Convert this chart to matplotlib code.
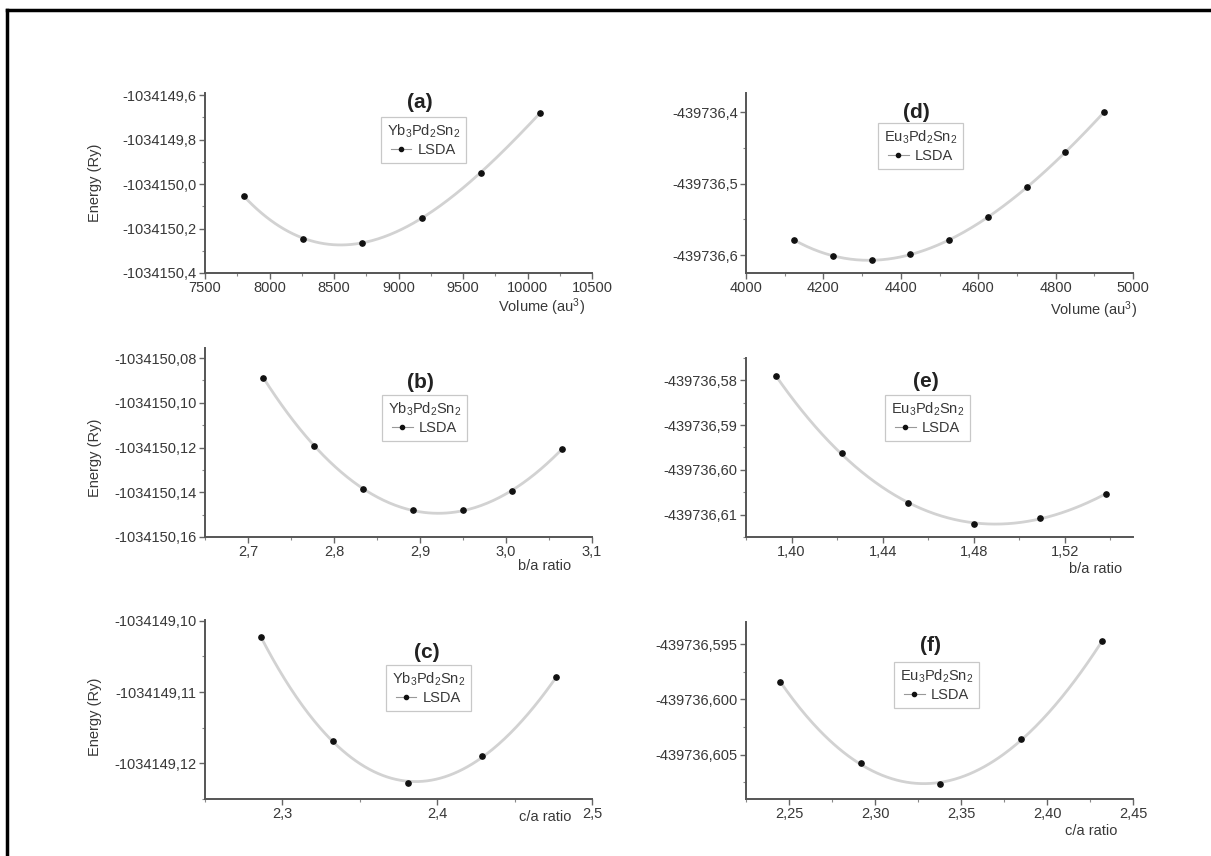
import numpy as np
import matplotlib
matplotlib.use("Agg")
import matplotlib.pyplot as plt
from matplotlib.ticker import MultipleLocator, FuncFormatter
from matplotlib.lines import Line2D

plt.rcParams['font.family'] = ['Liberation Sans', 'DejaVu Sans']
plt.rcParams['mathtext.fontset'] = 'custom'
plt.rcParams['mathtext.rm'] = 'Liberation Sans'
plt.rcParams['mathtext.it'] = 'Liberation Sans:italic'

# ---- data ----
vol_yb = [7800, 8260, 8720, 9180, 9640, 10100]
e_vol_yb = [-1034150.053, -1034150.245, -1034150.263, -1034150.152, -1034149.948, -1034149.678]

ba_yb = [2.718, 2.777, 2.834, 2.892, 2.950, 3.007, 3.065]
e_ba_yb = [-1034150.0889, -1034150.1191, -1034150.1387, -1034150.1481, -1034150.1478,
           -1034150.1396, -1034150.1206]

ca_yb = [2.286, 2.333, 2.381, 2.429, 2.477]
e_ca_yb = [-1034149.10228, -1034149.11683, -1034149.12280, -1034149.11897, -1034149.10793]

vol_eu = [4125, 4225, 4325, 4425, 4525, 4625, 4725, 4825, 4925]
e_vol_eu = [-439736.579, -439736.601, -439736.607, -439736.599, -439736.579,
            -439736.547, -439736.505, -439736.456, -439736.400]

ba_eu = [1.393, 1.422, 1.451, 1.480, 1.509, 1.538]
e_ba_eu = [-439736.57896, -439736.59627, -439736.60731, -439736.61209, -439736.61067, -439736.60545]

ca_eu = [2.245, 2.292, 2.338, 2.385, 2.432]
e_ca_eu = [-439736.59845, -439736.60578, -439736.60767, -439736.60356, -439736.59476]

yb_name = r'Yb$_3$Pd$_2$Sn$_2$'
eu_name = r'Eu$_3$Pd$_2$Sn$_2$'

W, H = 1211, 856
fig = plt.figure(figsize=(W / 100, H / 100), dpi=100)


def rect(x0, y0, x1, y1):
    return [x0 / W, 1 - y1 / H, (x1 - x0) / W, (y1 - y0) / H]


def comma(dec):
    return FuncFormatter(lambda v, _: f"{v:.{dec}f}".replace('.', ','))


txt_col = '#383838'
fs = 10.5
panels = [
    # x, y, name, tag, box, xlim, ylim, xmaj, ymaj, xdec, ydec, xlabel, xlab_pos, tag_pos, leg_pos, ylab_y
    (vol_yb, e_vol_yb, yb_name, '(a)', (205, 93, 592, 273), (7500, 10500), (-1034150.4, -1034149.59),
     500, 0.2, 0, 1, r'Volume (au$^3$)', (0.982, -0.19), (0.556, 0.95), (0.564, 0.867), 0.5),
    (ba_yb, e_ba_yb, yb_name, '(b)', (205, 348, 592, 537), (2.65, 3.1), (-1034150.16, -1034150.0755),
     0.1, 0.02, 1, 2, 'b/a ratio', (0.946, -0.155), (0.556, 0.82), (0.567, 0.751), 0.42),
    (ca_yb, e_ca_yb, yb_name, '(c)', (205, 620, 592, 799), (2.25, 2.5), (-1034149.125, -1034149.0999),
     0.1, 0.01, 1, 2, 'c/a ratio', (0.946, -0.10), (0.574, 0.821), (0.577, 0.749), 0.46),
    (vol_eu, e_vol_eu, eu_name, '(d)', (746, 93, 1133, 273), (4000, 5000), (-439736.625, -439736.373),
     200, 0.1, 0, 1, r'Volume (au$^3$)', (1.01, -0.206), (0.44, 0.894), (0.451, 0.833), None),
    (ba_eu, e_ba_eu, eu_name, '(e)', (746, 358, 1133, 537), (1.38, 1.55), (-439736.615, -439736.575),
     0.04, 0.01, 2, 2, 'b/a ratio', (0.972, -0.179), (0.465, 0.866), (0.469, 0.793), None),
    (ca_eu, e_ca_eu, eu_name, '(f)', (746, 622, 1133, 799), (2.225, 2.45), (-439736.609, -439736.593),
     0.05, 0.005, 2, 3, 'c/a ratio', (0.959, -0.181), (0.478, 0.87), (0.492, 0.774), None),
]

for (x, y, name, tag, box, xlim, ylim, xmaj, ymaj, xdec, ydec, xlabel,
     xlab_pos, tag_pos, leg_pos, ylab_y) in panels:
    ax = fig.add_axes(rect(*box))
    x = np.array(x)
    y = np.array(y)
    # smooth fitted curve through the calculated points
    fit = np.polynomial.Polynomial.fit(x, y - y.mean(), 3)
    xs = np.linspace(x.min(), x.max(), 200)
    ax.plot(xs, fit(xs) + y.mean(), color='#d2d2d2', lw=2, zorder=1)
    ax.plot(x, y, 'o', color='#111111', ms=3.8, zorder=2)

    ax.set_xlim(*xlim)
    ax.set_ylim(*ylim)
    ax.xaxis.set_major_locator(MultipleLocator(xmaj))
    ax.xaxis.set_minor_locator(MultipleLocator(xmaj / 2))
    ax.yaxis.set_major_locator(MultipleLocator(ymaj))
    ax.yaxis.set_minor_locator(MultipleLocator(ymaj / 2))
    ax.xaxis.set_major_formatter(comma(xdec))
    ax.yaxis.set_major_formatter(comma(ydec))

    for s in ('top', 'right'):
        ax.spines[s].set_visible(False)
    for s in ('left', 'bottom'):
        ax.spines[s].set_color('#555555')
        ax.spines[s].set_linewidth(1.4)
    ax.tick_params(which='major', length=4, width=1, color='#666666', direction='out',
                   labelsize=fs, labelcolor=txt_col, pad=2)
    ax.tick_params(which='minor', length=2.5, width=0.8, color='#888888', direction='out')

    ax.set_xlabel(xlabel, fontsize=fs, color=txt_col, ha='right', va='center')
    ax.xaxis.set_label_coords(*xlab_pos)
    if ylab_y is not None:
        ax.set_ylabel('Energy (Ry)', fontsize=fs, color=txt_col, va='center')
        ax.yaxis.set_label_coords(-0.284, ylab_y)

    ax.text(tag_pos[0], tag_pos[1], tag, transform=ax.transAxes, fontsize=15,
            fontweight='bold', color='#222222', ha='center', va='center')

    handle = Line2D([], [], color='#999999', lw=0.8, marker='o', ms=3,
                    mfc='#111111', mec='#111111')
    leg = ax.legend([handle], ['LSDA'], title=name, loc='upper center',
                    bbox_to_anchor=leg_pos, fontsize=fs, title_fontsize=fs,
                    frameon=True, fancybox=False, borderaxespad=0, borderpad=0.4,
                    handlelength=1.4, handletextpad=0.4, labelspacing=0.2)
    leg.get_frame().set_edgecolor('#bbbbbb')
    leg.get_frame().set_linewidth(0.9)
    leg.get_title().set_color(txt_col)
    for t in leg.get_texts():
        t.set_color(txt_col)

# outer frame of the figure
fig.add_artist(Line2D([7 / W, 7 / W], [0, 1 - 10 / H], transform=fig.transFigure,
                      color='black', lw=2.5))
fig.add_artist(Line2D([7 / W, 1], [1 - 10 / H, 1 - 10 / H], transform=fig.transFigure,
                      color='black', lw=2.5))

fig.savefig('out.png', dpi=100)
